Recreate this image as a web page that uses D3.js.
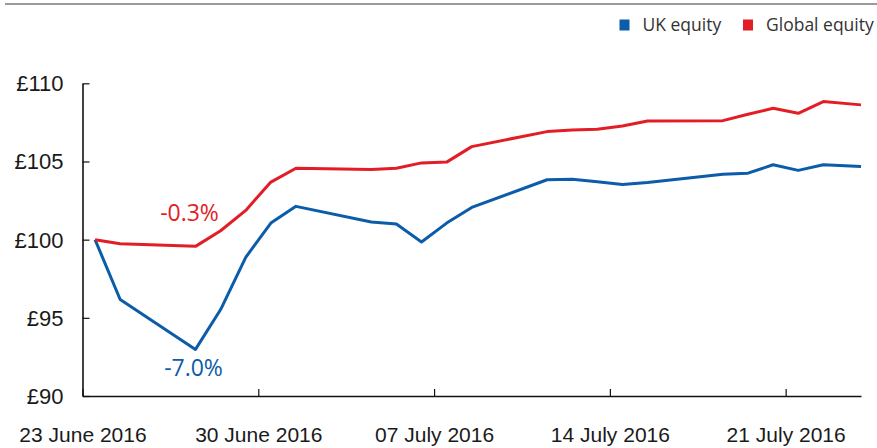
<!DOCTYPE html>
<html>
<head>
<meta charset="utf-8">
<script src="https://cdn.jsdelivr.net/npm/d3@7"></script>
<style>
    body { margin: 0; background: #fff; }
    svg { display: block; font-family: "Open Sans", sans-serif; }
    .x-label { font-size: 21px; fill: #1a1a1a; }
    .y-label { font-size: 22px; fill: #1a1a1a; }
    .note { font-size: 23px; }
    .legend-text { font-size: 17.5px; fill: #333; }
</style>
</head>
<body>
<svg id="equity-chart"></svg>
<script>
// Trading days (drawn at midday) and value of £100 invested on 23 June 2016
var dates = [
    "2016-06-23 12:00", "2016-06-24 12:00", "2016-06-27 12:00", "2016-06-28 12:00",
    "2016-06-29 12:00", "2016-06-30 12:00", "2016-07-01 12:00", "2016-07-04 12:00",
    "2016-07-05 12:00", "2016-07-06 12:00", "2016-07-07 12:00", "2016-07-08 12:00",
    "2016-07-11 12:00", "2016-07-12 12:00", "2016-07-13 12:00", "2016-07-14 12:00",
    "2016-07-15 12:00", "2016-07-18 12:00", "2016-07-19 12:00", "2016-07-20 12:00",
    "2016-07-21 12:00", "2016-07-22 12:00", "2016-07-24 00:00"
];
var ukEquity = [
    100.0, 96.17, 92.98, 95.53, 98.87, 101.06, 102.13, 101.13,
    101.0, 99.85, 101.06, 102.06, 103.83, 103.87, 103.70, 103.53,
    103.66, 104.19, 104.25, 104.79, 104.43, 104.79, 104.68
];
var globalEquity = [
    100.0, 99.74, 99.57, 100.57, 101.87, 103.68, 104.57, 104.49,
    104.57, 104.91, 104.96, 105.95, 106.91, 107.02, 107.06, 107.27,
    107.59, 107.61, 108.02, 108.40, 108.08, 108.83, 108.62
];
var seriesNames = ["UK equity", "Global equity"];
var seriesColors = ["#0b5ca9", "#e31d26"];
var xTickDates = ["2016-06-23", "2016-06-30", "2016-07-07", "2016-07-14", "2016-07-21"];
var yTicks = [90, 95, 100, 105, 110];
var troughLabels = ["-7.0%", "-0.3%"];

var parseTime = d3.timeParse("%Y-%m-%d %H:%M");
var parseDay = d3.timeParse("%Y-%m-%d");

var ukData = dates.map((d, i) => ({ date: parseTime(d), value: ukEquity[i] }));
var globalData = dates.map((d, i) => ({ date: parseTime(d), value: globalEquity[i] }));

// Overall size and plot area
var width = 877, height = 448;
var plot = { left: 82.5, right: 861, top: 83.3, bottom: 396 };

var svg = d3.select("#equity-chart")
    .attr("width", width)
    .attr("height", height);

// Scales
var x = d3.scaleTime()
    .domain([parseDay("2016-06-23"), parseDay("2016-07-24")])
    .range([plot.left, plot.right]);

var y = d3.scaleLinear()
    .domain([90, 110])
    .range([plot.bottom, plot.top]);

// Grey rule along the top
svg.append("line")
    .attr("x1", 5).attr("x2", width)
    .attr("y1", 4).attr("y2", 4)
    .attr("stroke", "#9a9a9a")
    .attr("stroke-width", 2);

// X axis (ticks pointing inward)
var xAxis = svg.append("g")
    .attr("transform", "translate(0," + plot.bottom + ")")
    .call(d3.axisBottom(x)
        .tickValues(xTickDates.map(parseDay))
        .tickSize(-7)
        .tickSizeOuter(0)
        .tickFormat(d3.timeFormat("%d %B %Y")));
xAxis.select(".domain").attr("stroke", "#111").attr("stroke-width", 1.6);
xAxis.selectAll(".tick line").attr("stroke", "#111").attr("stroke-width", 1.2);
xAxis.selectAll(".tick text")
    .attr("class", "x-label")
    .attr("font-size", null)
    .attr("font-family", null)
    .attr("y", 46)
    .attr("dy", 0);

// Y axis (ticks pointing inward)
var yAxis = svg.append("g")
    .attr("transform", "translate(" + plot.left + ",0)")
    .call(d3.axisLeft(y)
        .tickValues(yTicks)
        .tickSize(-7)
        .tickSizeOuter(0)
        .tickFormat(d => "£" + d));
yAxis.select(".domain").attr("stroke", "#111").attr("stroke-width", 1.6);
yAxis.selectAll(".tick line").attr("stroke", "#111").attr("stroke-width", 1.2);
yAxis.selectAll(".tick text")
    .attr("class", "y-label")
    .attr("font-size", null)
    .attr("font-family", null)
    .attr("x", -19)
    .attr("dy", "0.34em");

// Lines
var line = d3.line()
    .x(d => x(d.date))
    .y(d => y(d.value));

[ukData, globalData].forEach(function (data, i) {
    svg.append("path")
        .datum(data)
        .attr("fill", "none")
        .attr("stroke", seriesColors[i])
        .attr("stroke-width", 3)
        .attr("stroke-linejoin", "round")
        .attr("d", line);
});

// Trough annotations
var ukMin = d3.least(ukData, d => d.value);
svg.append("text")
    .attr("class", "note")
    .attr("text-anchor", "middle")
    .attr("x", x(ukMin.date) - 2)
    .attr("y", y(ukMin.value) + 27)
    .style("fill", seriesColors[0])
    .text(troughLabels[0]);

var globalMin = d3.least(globalData, d => d.value);
svg.append("text")
    .attr("class", "note")
    .attr("text-anchor", "middle")
    .attr("x", x(globalMin.date) - 6)
    .attr("y", y(globalMin.value) - 25)
    .style("fill", seriesColors[1])
    .text(troughLabels[1]);

// Legend
var legendX = [619.5, 743];
var legend = svg.selectAll(".legend")
    .data(seriesNames)
    .enter().append("g")
    .attr("class", "legend")
    .attr("transform", (d, i) => "translate(" + legendX[i] + ",19.5)");

legend.append("rect")
    .attr("width", 10)
    .attr("height", 11)
    .attr("fill", (d, i) => seriesColors[i]);

legend.append("text")
    .attr("class", "legend-text")
    .attr("x", 23)
    .attr("y", 11.5)
    .text(d => d);
</script>
</body>
</html>
